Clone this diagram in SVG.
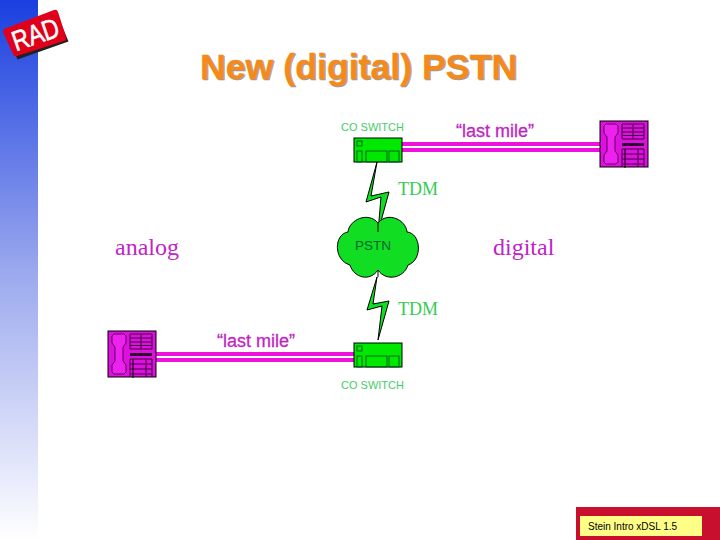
<svg xmlns="http://www.w3.org/2000/svg" width="720" height="540" viewBox="0 0 720 540">
<style>
.g{font-family:"Liberation Sans",Arial,sans-serif;fill:#44cc66}
.s{font-family:"Liberation Serif","Times New Roman",serif}
.t{fill:#33cc55}
.m{font-family:"Liberation Sans",Arial,sans-serif;fill:#c024c4;stroke:#c024c4;stroke-width:.3}
.st{stroke:#000;stroke-width:1;fill:#11dd22}
.ph{stroke:#400040;fill:none;stroke-width:1}
.line{stroke:#ee11dd;stroke-width:4;fill:none}
.in{fill:none;stroke:#006622;stroke-width:1}
</style>
<defs>
<linearGradient id="side" x1="0" y1="0" x2="0" y2="1">
<stop offset="0" stop-color="#1a3fe0"/><stop offset="0.5" stop-color="#9aa8ee"/><stop offset="1" stop-color="#ffffff"/>
</linearGradient>
<g id="phone">
<rect x="0" y="0" width="48" height="46" fill="#dd11dd" stroke="#000"/>
<path d="M6 3H16L18 5V12L15 16V30L18 34V41L16 43H6L4 41V34L7 30V16L4 12V5Z" fill="#ee22ee" stroke="#600060"/>
<path d="M22 3H44M22 7H44M22 11H44M22 14.500H44M22 18H44M22 3V18M33 3V18M44 3V18" class="ph"/>
<rect x="22" y="22" width="22" height="3" fill="#300030"/>
<path d="M22 28H44M22 33H44M22 38H44M22 43H44M22 28V46M38 28V46M44 28V46" class="ph"/>
<path d="M25 28V47" stroke="#000" fill="none"/>
</g>
<g id="sw">
<rect x="0" y="0" width="48" height="24" fill="#00e800" stroke="#000"/>
<rect x="3" y="3" width="5" height="5" class="in"/>
<rect x="3" y="13" width="5" height="11" class="in"/>
<rect x="12" y="13" width="21" height="11" class="in"/>
<rect x="35" y="13" width="10" height="11" class="in"/>
</g>
</defs>
<rect width="720" height="540" fill="#fff"/>
<rect width="38" height="540" fill="url(#side)"/>
<g id="logo">
<path d="M4.500 31L55 11L67 40L16 58Z" fill="#222" transform="translate(1.500 1.500)"/>
<path d="M4 29L54 10Q57 9 58 12L66 37Q67 40 64 41L17 56Q14 57 13 54L3 32Q3 30 4 29Z" fill="#e0001a"/>
<text x="35" y="44" text-anchor="middle" transform="rotate(-19 35 33)" font-family="Liberation Sans,sans-serif" font-size="28" fill="#fff" stroke="#fff" stroke-width=".6" textLength="48" lengthAdjust="spacingAndGlyphs">RAD</text>
</g>
<text x="201" y="80" font-family="Liberation Sans,Arial,sans-serif" font-weight="700" font-size="35.700" fill="#999" stroke="#999" stroke-width=".4">New (digital) PSTN</text>
<text x="200" y="79" font-family="Liberation Sans,Arial,sans-serif" font-weight="700" font-size="35.700" fill="#f58a1c" stroke="#f58a1c" stroke-width=".4">New (digital) PSTN</text>
<g id="connectors">
<path d="M402 144H600M402 150H600" class="line"/>
<path d="M155 354H354M155 360H354" class="line"/>
</g>
<g id="co-top">
<text x="341" y="131" class="g" font-size="11">CO SWITCH</text>
<use href="#sw" x="354" y="138"/>
</g>
<g id="phone-right"><use href="#phone" x="600" y="121"/></g>
<g id="bolt-top">
<path d="M377 162L366 202L381 197L378 232L389 192L371 196Z" class="st"/>
</g>
<g id="cloud">
<path d="M348 232C349 220 368 211 378 223C388 211 406 220 407 232C421 233 423 260 408 265C404 278 386 282 378 270C370 282 354 278 350 265C333 260 334 234 348 232Z" class="st"/>
<path d="M378 223L378 232M378 270V277" stroke="#000" fill="none"/>
<text x="355" y="250" font-family="Liberation Sans,sans-serif" font-size="13.500" fill="#006633">PSTN</text>
</g>
<g id="bolt-bottom">
<path d="M377 277L367 310L382 306L378 340L389 301L373 304Z" class="st"/>
</g>
<g id="co-bottom">
<use href="#sw" x="354" y="343"/>
<text x="341" y="389" class="g" font-size="11">CO SWITCH</text>
</g>
<g id="phone-left"><use href="#phone" x="108" y="331"/></g>
<text x="456" y="137" class="m" font-size="18">“last mile”</text>
<text x="217" y="347" class="m" font-size="18">“last mile”</text>
<text x="398" y="195" class="s t" font-size="18">TDM</text>
<text x="398" y="315" class="s t" font-size="18">TDM</text>
<text x="115" y="255" class="s" fill="#c024c4" font-size="24">analog</text>
<text x="493" y="255" class="s" fill="#c024c4" font-size="24">digital</text>
<g id="footer">
<rect x="576" y="507" width="144" height="33" fill="#c8102e"/>
<rect x="580" y="516" width="122" height="20" fill="#ffff88"/>
<text x="588" y="530" font-family="Liberation Sans,sans-serif" font-size="10" fill="#000">Stein Intro xDSL 1.5</text>
</g>
</svg>
